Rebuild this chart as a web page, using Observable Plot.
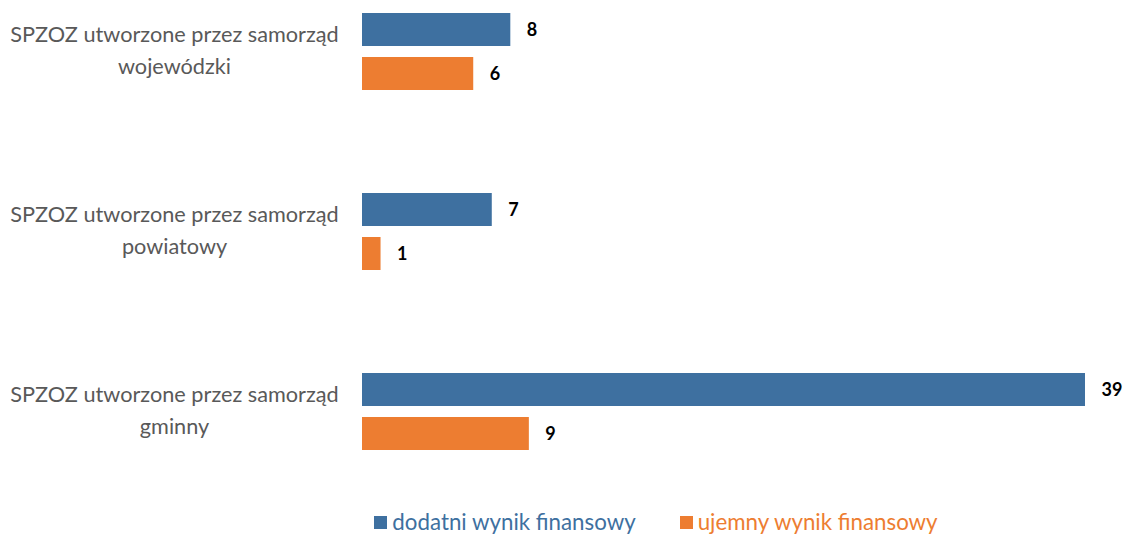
<!DOCTYPE html>
<html>
<head>
<meta charset="utf-8">
<script src="https://cdn.jsdelivr.net/npm/d3@7"></script>
<script src="https://cdn.jsdelivr.net/npm/@observablehq/plot@0.6"></script>
<style>
  body { margin: 0; background: #fff; font-family: Lato, sans-serif; }
  #legend { display: flex; justify-content: center; gap: 44px; padding-left: 187px; font-size: 22.3px; line-height: 26px; padding-top: 4px; }
  .item { display: flex; align-items: center; }
  .sw { width: 13px; height: 13px; margin-right: 5px; display: inline-block; }
</style>
</head>
<body>
<div id="chart"></div>
<div id="legend"></div>
<script>
const prefix = "SPZOZ utworzone przez samorząd";
const categories = ["wojewódzki", "powiatowy", "gminny"];
const series = ["dodatni wynik finansowy", "ujemny wynik finansowy"];
const positive = [8, 7, 39];
const negative = [6, 1, 9];
const colors = ["#3E70A0", "#ED7D31"];

const data = [];
categories.forEach((c, i) => {
  data.push({category: c, series: series[0], value: positive[i]});
  data.push({category: c, series: series[1], value: negative[i]});
});

const chart = Plot.plot({
  width: 1125,
  height: 505,
  marginLeft: 362,
  marginRight: 40,
  marginTop: 11,
  marginBottom: 54,
  style: {fontFamily: "Lato, sans-serif", background: "#fff"},
  x: {domain: [0, 39], axis: null},
  y: {domain: series, paddingInner: 0.25, paddingOuter: 0, axis: null},
  fy: {domain: categories, paddingInner: 0.568, paddingOuter: 0, label: null},
  color: {domain: series, range: colors},
  marks: [
    Plot.barX(data, {x: "value", y: "series", fy: "category", fill: "series"}),
    Plot.text(data, {x: "value", y: "series", fy: "category", text: d => String(d.value),
      textAnchor: "start", dx: 16, fontWeight: "bold", fontSize: 18, fill: "#000"}),
    Plot.axisFy({anchor: "left", tickSize: 0, tickPadding: 188, textAnchor: "middle", dy: -4,
      tickFormat: d => prefix + "\n" + d, fontSize: 21.7, lineHeight: 1.48, fill: "#595959", label: null})
  ]
});
document.getElementById("chart").appendChild(chart);

const legend = document.getElementById("legend");
series.forEach((s, i) => {
  const it = document.createElement("div");
  it.className = "item";
  const sw = document.createElement("span");
  sw.className = "sw";
  sw.style.background = colors[i];
  const tx = document.createElement("span");
  tx.textContent = s;
  tx.style.color = colors[i];
  it.appendChild(sw); it.appendChild(tx);
  legend.appendChild(it);
});
</script>
</body>
</html>
